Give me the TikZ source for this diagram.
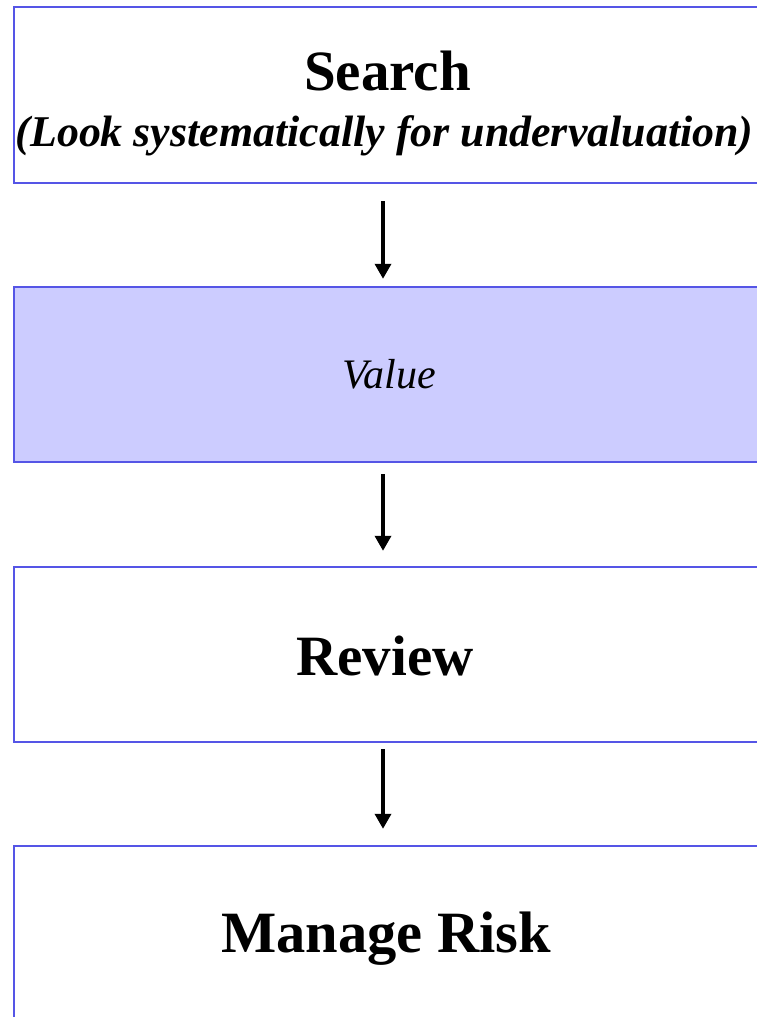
\documentclass[tikz,border=0pt]{standalone}
\usepackage{fontspec}
\setmainfont{Liberation Serif}
\usetikzlibrary{arrows.meta}
\definecolor{boxblue}{RGB}{85,85,230}
\definecolor{boxfill}{RGB}{204,204,255}
\tikzset{
  box/.style={draw=boxblue, line width=2.4pt, rectangle, minimum width=744pt, inner sep=0pt},
  lbl/.style={anchor=base, inner sep=0pt},
  arr/.style={line width=3.4pt, -{Triangle[width=16pt,length=15pt]}},
}
\begin{document}
\begin{tikzpicture}[x=1pt,y=-1pt]
\useasboundingbox (0,0) rectangle (757,1017);
\clip (0,0) rectangle (757,1017);
\fill[white] (0,0) rectangle (757,1017);
\node[box, minimum height=176pt] (b1) at (386,95) {};
\node[box, fill=boxfill, minimum height=175pt] (b2) at (386,374.5) {};
\node[box, minimum height=175pt] (b3) at (386,654.5) {};
\node[box, minimum height=176pt] (b4) at (386,934) {};
\node[lbl] (t1) at (387.5,90) {\fontsize{57}{60}\selectfont\bfseries Search};
\node[lbl] (t1b) at (384.5,146) {\fontsize{43.9}{46}\selectfont\bfseries\itshape (Look systematically for undervaluation)};
\node[lbl] (t2) at (389,388) {\fontsize{42}{44}\selectfont\itshape Value};
\node[lbl] (t3) at (385,675) {\fontsize{57}{60}\selectfont\bfseries Review};
\node[lbl] (t4) at (386,952) {\fontsize{58.5}{60}\selectfont\bfseries Manage Risk};
\draw[arr, shorten <=17pt, shorten >=7pt] ([xshift=-3pt]b1.south) -- ([xshift=-3pt]b2.north);
\draw[arr, shorten <=11pt, shorten >=15pt] ([xshift=-3pt]b2.south) -- ([xshift=-3pt]b3.north);
\draw[arr, shorten <=6pt, shorten >=16pt] ([xshift=-3pt]b3.south) -- ([xshift=-3pt]b4.north);
\end{tikzpicture}
\end{document}
